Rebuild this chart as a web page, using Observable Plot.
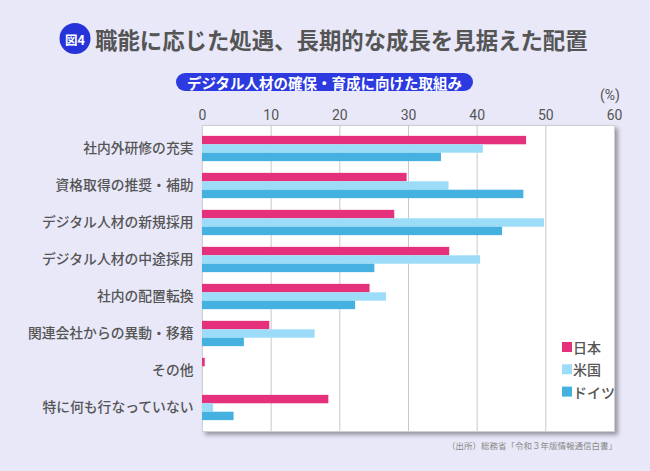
<!DOCTYPE html>
<html>
<head>
<meta charset="utf-8">
<script src="https://cdn.jsdelivr.net/npm/d3@7"></script>
<script src="https://cdn.jsdelivr.net/npm/@observablehq/plot@0.6"></script>
<style>
  html, body { margin: 0; padding: 0; background: #e8e8f9; }
  #chart { width: 650px; height: 471px; position: relative; }
</style>
</head>
<body>
<div id="chart"></div>
<script>
const categories = [
  "社内外研修の充実",
  "資格取得の推奨・補助",
  "デジタル人材の新規採用",
  "デジタル人材の中途採用",
  "社内の配置転換",
  "関連会社からの異動・移籍",
  "その他",
  "特に何も行なっていない"
];
const japan   = [47.2, 29.8, 28.0, 36.0, 24.4, 9.8, 0.4, 18.4];
const usa     = [40.9, 35.9, 49.8, 40.5, 26.8, 16.4, 0, 1.6];
const germany = [34.8, 46.8, 43.7, 25.1, 22.3, 6.1, 0, 4.6];
const seriesNames = ["日本", "米国", "ドイツ"];
const seriesColors = ["#e5307b", "#9ddcf9", "#45b1e0"];
const xTicks = [0, 10, 20, 30, 40, 50, 60];
const titleText = "職能に応じた処遇、長期的な成長を見据えた配置";
const badgeText = "図4";
const subtitleText = "デジタル人材の確保・育成に向けた取組み";
const unitText = "(%)";
const captionText = "（出所）総務省「令和３年版情報通信白書」";

const seriesValues = [japan, usa, germany];
const rows = categories.flatMap((c, i) =>
  seriesNames.map((s, k) => ({category: c, series: s, k, value: seriesValues[k][i]}))
);

const band = 37, barH = 8.43, groupTop = (band - 3 * barH) / 2;
const barMarks = seriesNames.map((s, k) =>
  Plot.barX(rows.filter(d => d.k === k), {
    x: "value", y: "category", fill: seriesColors[k],
    insetTop: groupTop + k * barH,
    insetBottom: band - (groupTop + (k + 1) * barH)
  })
);

const chart = Plot.plot({
  width: 650,
  height: 471,
  marginLeft: 202,
  marginRight: 36,
  marginTop: 125,
  marginBottom: 40,
  style: {background: "transparent", color: "#555", fontFamily: "'Noto Sans CJK JP', sans-serif", fontSize: "13.8px"},
  x: {domain: [0, 60], label: null},
  y: {domain: categories, padding: 0, insetTop: 4.5, insetBottom: 5.5, label: null},
  marks: [
    Plot.frame({fill: "white", stroke: "#d0d0d0"}),
    Plot.ruleX(xTicks.slice(1, -1), {stroke: "#c8c8c8", strokeWidth: 1}),
    ...barMarks,
    Plot.axisX({anchor: "top", ticks: xTicks, tickSize: 0, tickPadding: 6, label: null}),
    Plot.axisY({tickSize: 0, tickPadding: 9, label: null, fontWeight: 500})
  ]
});

document.getElementById("chart").appendChild(chart);
const svg = d3.select(chart);

svg.select('[aria-label="frame"]').style("filter", "drop-shadow(3px 3px 2px rgba(0,0,0,0.35))");
svg.selectAll('[aria-label="x-axis tick label"]')
  .attr("font-family", "Roboto, sans-serif").attr("font-size", 14);
svg.selectAll('[aria-label="x-axis tick label"] text')
  .style("font-family", "Roboto, sans-serif").style("font-size", "14px");

// title
svg.append("circle").attr("cx", 75).attr("cy", 38.5).attr("r", 15.5).attr("fill", "#2633d9");
svg.append("text").attr("x", 75).attr("y", 39).attr("text-anchor", "middle").attr("dominant-baseline", "central")
  .attr("fill", "white").attr("font-size", 12.5).attr("font-weight", "bold").text(badgeText);
svg.append("text").attr("x", 95).attr("y", 39).attr("text-anchor", "start").attr("dominant-baseline", "central")
  .attr("fill", "#555").attr("font-size", 22.4).attr("font-weight", "bold").text(titleText);

// subtitle pill
svg.append("rect").attr("x", 176).attr("y", 73).attr("width", 297).attr("height", 18).attr("rx", 9).attr("fill", "#2c3ae0");
svg.append("text").attr("x", 324.5).attr("y", 82.5).attr("text-anchor", "middle").attr("dominant-baseline", "central")
  .attr("fill", "white").attr("font-size", 14.5).attr("font-weight", "bold").text(subtitleText);

// unit
svg.append("text").attr("x", 610).attr("y", 95).attr("text-anchor", "middle").attr("dominant-baseline", "central")
  .attr("fill", "#555").attr("font-family", "Roboto, sans-serif").attr("font-size", 14).text(unitText);

// legend
const lg = svg.append("g");
seriesNames.forEach((s, k) => {
  const cy = 347 + k * 22.3;
  lg.append("rect").attr("x", 562).attr("y", cy - 5).attr("width", 10).attr("height", 10).attr("fill", seriesColors[k]);
  lg.append("text").attr("x", 573).attr("y", cy).attr("text-anchor", "start").attr("dominant-baseline", "central")
    .attr("fill", "#555").attr("font-size", 14).attr("font-weight", 500).text(s);
});

// caption
svg.append("text").attr("x", 617).attr("y", 445).attr("text-anchor", "end").attr("dominant-baseline", "central")
  .attr("fill", "#888").attr("font-size", 8.5).text(captionText);
</script>
</body>
</html>
